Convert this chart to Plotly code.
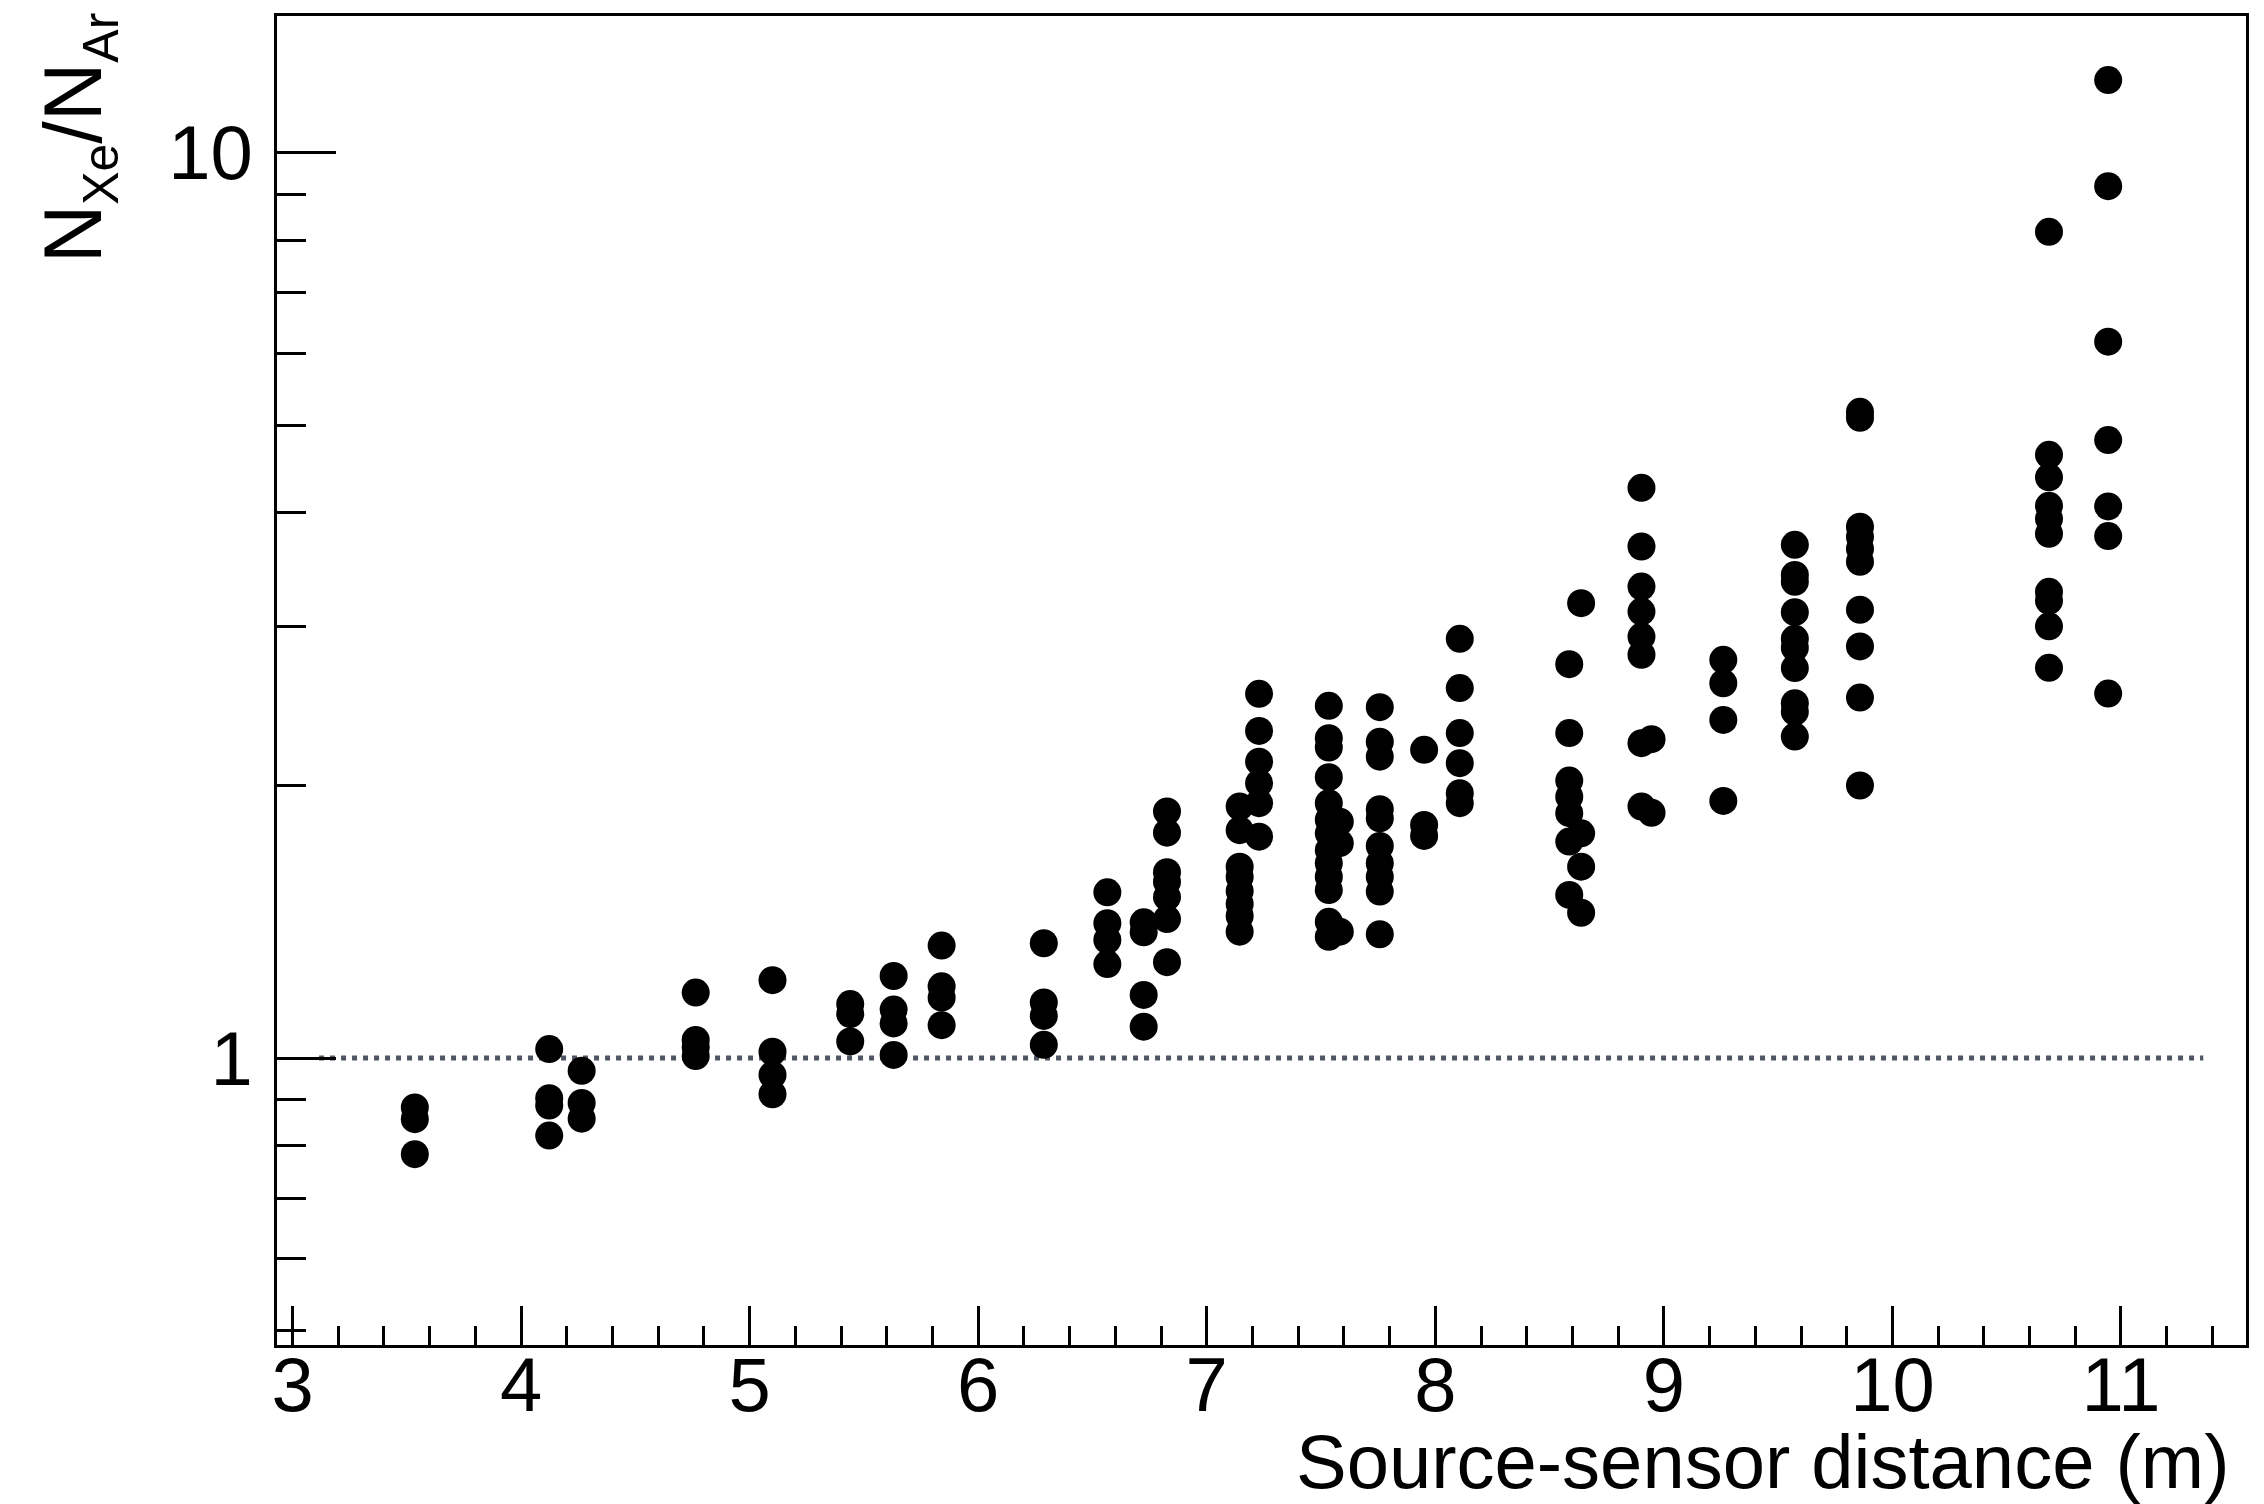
import plotly.graph_objects as go

# Source-sensor distance of each measurement group (m)
distances = [3.535, 4.123, 4.265, 4.764, 5.10, 5.44, 5.63, 5.84, 6.287, 6.565,
             6.724, 6.826, 7.144, 7.229, 7.534, 7.582, 7.757, 7.951, 8.107, 8.586,
             8.638, 8.902, 8.946, 9.26, 9.573, 9.858, 10.685, 10.944]

# N_Xe / N_Ar ratios measured at each distance
ratios = [
    [0.882, 0.856, 0.783],
    [1.023, 0.903, 0.886, 0.821],
    [0.968, 0.892, 0.857],
    [1.181, 1.047, 1.028, 1.005],
    [1.219, 1.016, 0.958, 0.912],
    [1.147, 1.118, 1.043],
    [1.232, 1.131, 1.092, 1.008],
    [1.331, 1.200, 1.166, 1.087],
    [1.339, 1.152, 1.113, 1.034],
    [1.524, 1.409, 1.350, 1.270],
    [1.412, 1.377, 1.174, 1.083],
    [1.872, 1.774, 1.604, 1.566, 1.506, 1.424, 1.276],
    [1.896, 1.785, 1.627, 1.585, 1.529, 1.480, 1.435, 1.379],
    [2.525, 2.298, 2.125, 2.012, 1.912, 1.756],
    [2.449, 2.256, 2.203, 2.043, 1.912, 1.833, 1.771, 1.697, 1.641, 1.586,
     1.533, 1.414, 1.361],
    [1.824, 1.727, 1.379],
    [2.441, 2.236, 2.152, 1.883, 1.840, 1.715, 1.641, 1.586, 1.527, 1.370],
    [2.190, 1.809, 1.759],
    [2.904, 2.562, 2.285, 2.117, 1.961, 1.912],
    [2.723, 2.285, 2.025, 1.944, 1.864, 1.734, 1.514],
    [3.180, 1.771, 1.627, 1.447],
    [4.264, 3.673, 3.317, 3.113, 2.921, 2.789, 2.227, 1.896],
    [2.250, 1.866],
    [2.753, 2.594, 2.363, 1.923],
    [3.689, 3.417, 3.357, 3.108, 2.904, 2.839, 2.696, 2.466, 2.412, 2.265],
    [5.174, 5.096, 3.862, 3.765, 3.652, 3.533, 3.127, 2.849, 2.501, 2.000],
    [8.178, 4.638, 4.380, 4.073, 3.941, 3.794, 3.273, 3.199, 2.998, 2.698],
    [12.03, 9.183, 6.184, 4.815, 4.067, 3.772, 2.527],
]

# Reference level N_Xe / N_Ar = 1
unity_x = [3.116, 11.36]
unity_y = [1.0, 1.0]

# Axis ticks
x_major_start, x_major_step, x_minor_step = 3, 1, 0.2
y_major_vals = [1, 10]
y_major_text = ["1", "10"]
y_minor_vals = [0.5, 0.6, 0.7, 0.8, 0.9, 2, 3, 4, 5, 6, 7, 8, 9]
x_range = [2.932, 11.547]
y_range_log = [-0.317, 1.151]

x_title = "Source-sensor distance (m)"
y_title = ("N<sub><span style='font-size:50px'>Xe</span></sub>/"
           "N<sub><span style='font-size:50px'>Ar</span></sub>")

FONT = "Liberation Sans, Arial, Helvetica, sans-serif"

xs = [d for d, grp in zip(distances, ratios) for _ in grp]
ys = [r for grp in ratios for r in grp]

fig = go.Figure()

# soft shadow beneath the reference line
for h in (4, 8, 12, 16):
    fig.add_shape(type="rect", xref="x", yref="y",
                  x0=unity_x[0], x1=unity_x[1],
                  ysizemode="pixel", yanchor=unity_y[0], y0=-h, y1=0,
                  fillcolor="rgba(0,0,0,0.022)", line_width=0, layer="below")

fig.add_trace(go.Scatter(
    x=unity_x, y=unity_y, mode="lines",
    line=dict(color="#4f5563", width=5, dash="5px,6px"),
    hoverinfo="skip", showlegend=False,
))

fig.add_trace(go.Scatter(
    x=xs, y=ys, mode="markers",
    marker=dict(size=28, color="black", line=dict(width=0)),
    showlegend=False,
))

fig.update_xaxes(
    range=x_range, showgrid=False, zeroline=False,
    showline=True, linecolor="black", linewidth=3, mirror=True,
    tickmode="linear", tick0=x_major_start, dtick=x_major_step,
    ticks="inside", ticklen=39, tickwidth=2.5, tickcolor="black",
    minor=dict(ticks="inside", ticklen=19, tickwidth=2.5, tickcolor="black",
               dtick=x_minor_step, tick0=x_major_start, showgrid=False),
    tickfont=dict(family=FONT, size=76, color="black"),
    ticklabelstandoff=-28,
)

fig.update_yaxes(
    type="log", range=y_range_log, showgrid=False, zeroline=False,
    showline=True, linecolor="black", linewidth=3, mirror=True,
    tickmode="array", tickvals=y_major_vals, ticktext=y_major_text,
    ticks="inside", ticklen=59, tickwidth=2.5, tickcolor="black",
    minor=dict(ticks="inside", ticklen=29, tickwidth=2.5, tickcolor="black",
               tickmode="array", tickvals=y_minor_vals, showgrid=False),
    tickfont=dict(family=FONT, size=76, color="black"),
    ticklabelstandoff=6,
)

fig.add_annotation(
    text=x_title, xref="paper", yref="paper", x=0.9924, y=-0.0545,
    xanchor="right", yanchor="top", showarrow=False,
    font=dict(family=FONT, size=76, color="black"),
)

fig.add_annotation(
    text=y_title, xref="paper", yref="paper", x=-0.101, y=1.004,
    xanchor="center", yanchor="top", textangle=-90, showarrow=False,
    font=dict(family=FONT, size=81, color="black"),
)

fig.update_layout(
    width=2264, height=1504, autosize=False,
    margin=dict(l=277, r=18, t=16, b=159, pad=0),
    paper_bgcolor="white", plot_bgcolor="white",
    font=dict(family=FONT, color="black"),
)

fig.write_html("out.html")
